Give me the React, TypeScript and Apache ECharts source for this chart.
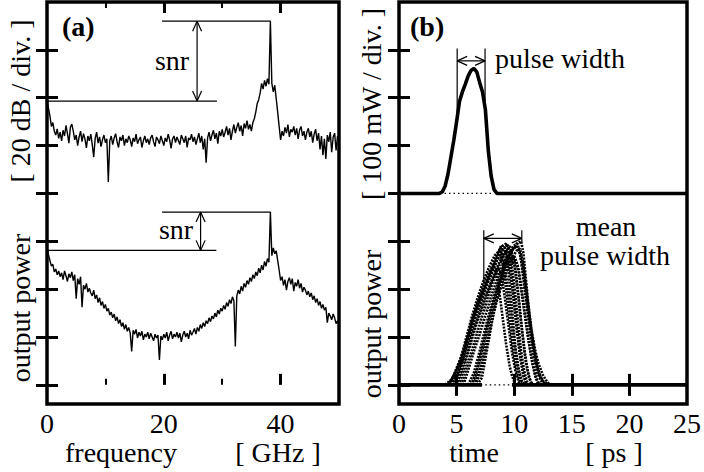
import React, { useEffect, useRef } from 'react';
import * as echarts from 'echarts';

// ---------- panel (a): spectra, level units (1 unit = 1 division) ----------
const FREQ_STEP = 0.25; // GHz between samples
const specUpper = [
  5.95, 5.78, 5.62, 5.40, 5.48, 5.30, 5.22, 5.35, 5.15, 5.28,
  5.10, 5.32, 5.20, 5.42, 5.25, 5.05, 5.38, 5.45, 5.30, 5.12,
  5.22, 5.00, 5.18, 5.30, 5.08, 5.25, 5.14, 4.95, 5.20, 5.10,
  5.24, 5.02, 4.76, 5.15, 5.28, 5.05, 5.18, 4.98, 5.12, 5.22,
  5.06, 5.14, 4.24, 5.10, 5.20, 5.02, 5.16, 5.25, 5.08, 4.96,
  5.18, 5.10, 5.22, 5.00, 5.14, 5.06, 5.20, 5.12, 4.98, 5.16,
  5.08, 5.24, 5.04, 5.12, 5.18, 4.96, 5.10, 5.20, 5.06, 5.14,
  5.02, 5.16, 5.22, 5.08, 4.98, 5.18, 5.12, 5.04, 5.20, 5.10,
  5.00, 5.16, 5.08, 5.24, 5.12, 4.94, 5.14, 5.20, 5.06, 5.18,
  5.10, 5.02, 5.22, 5.14, 5.06, 5.20, 4.96, 5.16, 5.12, 5.24,
  5.08, 5.18, 5.02, 5.14, 5.26, 5.06, 5.20, 4.92, 5.14, 4.64,
  5.16, 5.28, 5.10, 5.22, 5.32, 5.14, 5.26, 5.04, 5.30, 5.20,
  5.34, 5.18, 5.28, 5.40, 5.22, 5.36, 5.12, 5.30, 5.44, 5.26,
  5.38, 5.48, 5.30, 5.42, 5.20, 5.46, 5.36, 5.52, 5.34, 5.44,
  5.30, 5.48, 5.56, 5.70, 5.88, 5.96, 6.10, 6.30, 6.18, 6.36,
  6.24, 6.40, 6.28, 7.60, 6.30, 6.12, 6.26, 5.98, 5.70, 5.40,
  5.12, 5.30, 5.20, 5.38, 5.26, 5.44, 5.18, 5.34, 5.28, 5.40,
  5.22, 5.36, 5.14, 5.32, 5.40, 5.20, 5.30, 5.12, 5.28, 5.36,
  5.18, 5.30, 5.06, 5.24, 5.34, 5.10, 5.26, 4.92, 5.20, 4.80,
  5.14, 4.72, 5.22, 5.08, 5.28, 4.86, 5.18, 5.26, 4.90, 5.20,
  5.12,
];
const specLower = [
  2.88, 2.72, 2.60, 2.48, 2.52, 2.36, 2.42, 2.30, 2.38, 2.26,
  2.34, 2.20, 2.38, 2.28, 2.16, 2.32, 2.24, 2.36, 2.18, 2.30,
  1.80, 2.22, 2.10, 2.26, 1.62, 2.08, 2.00, 2.12, 1.94, 2.02,
  1.92, 1.86, 1.98, 1.80, 1.88, 1.72, 1.82, 1.66, 1.74, 1.60,
  1.68, 1.54, 1.60, 1.46, 1.52, 1.40, 1.48, 1.34, 1.42, 1.28,
  1.36, 1.22, 1.30, 1.16, 1.26, 1.12, 1.20, 1.08, 0.70, 1.14,
  1.06, 1.16, 0.98, 1.10, 1.02, 1.12, 0.94, 1.06, 1.00, 1.10,
  0.96, 1.08, 1.00, 0.92, 1.06, 0.98, 1.04, 0.52, 1.02, 0.94,
  1.06, 0.98, 1.10, 0.92, 1.04, 1.12, 0.96, 1.06, 1.00, 1.10,
  0.98, 1.08, 0.90, 1.04, 1.12, 1.00, 1.08, 0.96, 1.14, 1.04,
  1.10, 1.18, 1.06, 1.20, 1.12, 1.26, 1.18, 1.30, 1.22, 1.34,
  1.28, 1.40, 1.32, 1.44, 1.38, 1.50, 1.42, 1.56, 1.48, 1.60,
  1.54, 1.66, 1.58, 1.72, 1.64, 1.78, 1.70, 1.84, 1.76, 0.80,
  1.86, 1.98, 1.90, 2.06, 1.96, 2.12, 2.04, 2.18, 2.10, 2.24,
  2.16, 2.30, 2.22, 2.36, 2.28, 2.44, 2.34, 2.50, 2.40, 2.58,
  2.48, 2.64, 2.56, 3.61, 2.70, 2.86, 2.74, 2.80, 2.60, 2.40,
  2.18, 2.26, 2.08, 2.20, 1.98, 2.16, 2.24, 2.10, 2.22, 1.96,
  2.14, 2.06, 2.20, 2.02, 2.12, 1.94, 2.04, 1.98, 1.88, 1.96,
  1.84, 1.92, 1.78, 1.86, 1.72, 1.80, 1.66, 1.74, 1.60, 1.68,
  1.56, 1.62, 1.30, 1.50, 1.44, 1.36, 1.48, 1.40, 1.28, 1.34,
  1.26,
];
// annotation segments: [x1, y1, x2, y2, doubleArrow]
const annotA = [
  [19.7, 7.6, 38.3, 7.6, 0],
  [0, 5.93, 29.1, 5.93, 0],
  [25.7, 7.6, 25.7, 5.93, 1],
  [19.7, 3.61, 38.3, 3.61, 0],
  [0, 2.81, 29.0, 2.81, 0],
  [26.3, 3.61, 26.3, 2.81, 1],
];
const freqLabels = [0, 20, 40];
const freqMajorTicks = [20, 40];
const freqMinorTicks = [10, 30];

// ---------- panel (b): pulses ----------
const pulseTimes = [0, 3.5, 3.75, 4, 4.25, 4.5, 4.75, 5, 5.25, 5.5, 5.75, 6, 6.25, 6.5, 6.75, 7, 7.25, 7.5, 7.75, 8, 8.25, 8.5, 25];
const pulseLevels = [4, 4, 4.03, 4.15, 4.40, 4.75, 5.10, 5.50, 5.92, 6.12, 6.28, 6.45, 6.57, 6.61, 6.54, 6.32, 6.12, 5.75, 4.90, 4.36, 4.08, 4, 4];
const upperDottedBase = [[3.95, 4], [8.0, 4]];
const lowerDottedBase = [[7.1, 0], [9.9, 0]];
const lowerBaseLeft = [[0, 0], [7.2, 0]];
const lowerBaseRight = [[9.8, 0], [25, 0]];
const traceL1 = [[4.2,0],[4.6,0.12],[5.0,0.35],[5.5,0.65],[6.0,1.05],[6.5,1.45],[7.0,1.8],[7.5,2.1],[8.0,2.4],[8.5,2.72],[8.9,2.92],[9.2,2.85],[9.5,2.4],[9.8,1.6],[10.1,0.8],[10.4,0.3],[10.7,0.05],[11,0]];
const traceL2 = [[4.8,0],[5.3,0.3],[5.8,0.8],[6.3,1.3],[6.8,1.7],[7.3,2.05],[7.8,2.35],[8.2,2.5],[8.5,2.3],[8.7,1.95],[9.0,1.4],[9.3,0.85],[9.6,0.4],[9.8,0.2],[10.1,0]];
const traceL3 = [[4.5,0],[5.0,0.2],[5.5,0.5],[6.0,0.9],[6.5,1.3],[7.0,1.65],[7.5,2.0],[8.0,2.3],[8.5,2.6],[9.0,2.8],[9.4,2.95],[9.7,2.7],[10.0,2.1],[10.3,1.4],[10.6,0.7],[10.9,0.25],[11.2,0]];
const traceL4 = [[5.0,0],[5.5,0.35],[6.0,0.75],[6.5,1.15],[7.0,1.5],[7.5,1.85],[8.0,2.15],[8.5,2.45],[9.0,2.7],[9.3,2.8],[9.6,2.5],[9.9,1.9],[10.2,1.2],[10.5,0.6],[10.8,0.2],[11.1,0]];
const traceL5 = [[5.4,0],[5.8,0.3],[6.3,0.7],[6.8,1.1],[7.3,1.5],[7.8,1.9],[8.3,2.25],[8.8,2.55],[9.2,2.75],[9.6,2.9],[10.0,2.6],[10.3,2.0],[10.6,1.3],[10.9,0.7],[11.2,0.25],[11.5,0]];
const traceL6 = [[4.0,0],[4.5,0.1],[5.0,0.3],[5.5,0.6],[5.9,0.95],[6.4,1.35],[6.9,1.7],[7.4,2.0],[7.9,2.3],[8.4,2.6],[8.8,2.85],[9.1,2.6],[9.4,2.1],[9.7,1.5],[10.0,0.9],[10.3,0.4],[10.6,0.1],[10.9,0]];
const traceL7 = [[4.6,0],[5.1,0.25],[5.6,0.6],[6.1,1.0],[6.6,1.4],[7.1,1.75],[7.6,2.1],[8.1,2.4],[8.6,2.65],[9.0,2.9],[9.3,2.95],[9.6,2.65],[9.9,2.0],[10.2,1.3],[10.5,0.65],[10.8,0.2],[11.1,0]];
const traceL8 = [[5.2,0],[5.7,0.4],[6.2,0.85],[6.7,1.25],[7.2,1.6],[7.7,1.95],[8.2,2.25],[8.6,2.45],[8.9,2.3],[9.2,1.8],[9.5,1.25],[9.8,0.7],[10.1,0.3],[10.4,0.05],[10.7,0]];
const traceL9 = [[5.6,0],[6.0,0.3],[6.5,0.7],[7.0,1.05],[7.5,1.45],[8.0,1.85],[8.5,2.2],[9.0,2.5],[9.4,2.7],[9.8,2.75],[10.1,2.4],[10.4,1.8],[10.7,1.1],[11.0,0.5],[11.3,0.15],[11.6,0]];
const traceL10 = [[4.3,0],[4.8,0.2],[5.3,0.5],[5.8,0.95],[6.3,1.4],[6.8,1.8],[7.3,2.15],[7.8,2.45],[8.3,2.7],[8.7,2.8],[9.0,2.55],[9.3,2.0],[9.6,1.35],[9.9,0.75],[10.2,0.3],[10.5,0.05],[10.8,0]];
const traceR1 = [[6.8,0],[7.2,0.15],[7.5,0.55],[7.8,0.95],[8.1,1.35],[8.4,1.7],[8.7,2.05],[9.0,2.35],[9.4,2.6],[9.8,2.8],[10.2,2.95],[10.6,3.0],[10.8,2.75],[11.0,2.25],[11.2,1.75],[11.5,1.15],[11.8,0.75],[12.1,0.45],[12.5,0.2],[12.9,0.05],[13.2,0]];
const traceR2 = [[6.2,0],[6.6,0.15],[7.0,0.5],[7.4,0.9],[7.8,1.3],[8.2,1.7],[8.6,2.05],[9.0,2.35],[9.4,2.6],[9.8,2.8],[10.2,2.9],[10.5,2.75],[10.8,2.3],[11.1,1.7],[11.4,1.1],[11.7,0.6],[12.0,0.25],[12.4,0.05],[12.8,0]];
const traceR3 = [[6.5,0],[7.0,0.3],[7.4,0.7],[7.8,1.1],[8.2,1.5],[8.6,1.85],[9.0,2.2],[9.4,2.45],[9.8,2.65],[10.2,2.8],[10.5,2.85],[10.8,2.5],[11.1,1.9],[11.4,1.3],[11.7,0.8],[12.0,0.4],[12.3,0.15],[12.7,0]];
const traceR4 = [[6.0,0],[6.5,0.25],[7.0,0.7],[7.5,1.2],[8.0,1.65],[8.5,2.05],[9.0,2.4],[9.5,2.7],[9.9,2.9],[10.3,2.95],[10.6,2.6],[10.9,2.0],[11.2,1.45],[11.5,0.95],[11.8,0.55],[12.1,0.25],[12.5,0.08],[13,0]];
const traceR5 = [[6.6,0],[7.0,0.2],[7.4,0.6],[7.8,1.0],[8.1,1.4],[8.5,1.8],[9.0,2.15],[9.4,2.4],[9.8,2.55],[10.1,2.6],[10.4,2.4],[10.7,1.9],[11.0,1.35],[11.3,0.85],[11.6,0.45],[11.9,0.15],[12.2,0]];
const traceR6 = [[6.3,0],[6.8,0.35],[7.2,0.75],[7.6,1.15],[8.0,1.55],[8.4,1.9],[8.8,2.2],[9.2,2.45],[9.6,2.6],[10.0,2.7],[10.3,2.5],[10.6,2.0],[10.9,1.5],[11.2,1.0],[11.5,0.55],[11.8,0.2],[12.1,0]];
const pulseTraces = [traceL1, traceL2, traceL3, traceL4, traceL5, traceL6, traceL7, traceL8, traceL9, traceL10, traceR1, traceR2, traceR3, traceR4, traceR5, traceR6];
const annotB = [
  [5.05, 7.03, 5.05, 5.58, 0],
  [7.47, 7.03, 7.47, 5.85, 0],
  [5.05, 6.77, 7.47, 6.77, 1],
  [7.36, 3.23, 7.36, 2.12, 0],
  [10.66, 3.23, 10.66, 2.98, 0],
  [7.36, 3.06, 10.66, 3.06, 1],
];
const timeLabels = [0, 5, 10, 15, 20, 25];
const timeTicks = [5, 10, 15, 20];
const levelTicks = [0, 1, 2, 3, 4, 5, 6, 7];

const FONT = "'Liberation Serif', 'Times New Roman', Times, serif";

function xAx(gridIndex: number, position: string, max: number, ticks: number[], len: number, width: number, labels?: number[]) {
  return {
    type: 'value', gridIndex, position, min: 0, max,
    axisLine: { show: false }, splitLine: { show: false },
    axisTick: { show: true, inside: true, length: len, lineStyle: { color: '#000', width }, customValues: ticks },
    axisLabel: labels
      ? { show: true, customValues: labels, color: '#000', fontSize: 28, fontFamily: FONT, margin: 5 }
      : { show: false },
  };
}
function yAx(gridIndex: number, position: string) {
  return {
    type: 'value', gridIndex, position, min: -0.4, max: 8,
    axisLine: { show: false }, splitLine: { show: false },
    axisTick: { show: true, inside: true, length: 11, lineStyle: { color: '#000', width: 3 }, customValues: levelTicks },
    axisLabel: { show: false },
  };
}

function arrowRender(params: any, api: any) {
  const p1 = api.coord([api.value(0), api.value(1)]);
  const p2 = api.coord([api.value(2), api.value(3)]);
  const st = { stroke: '#000', lineWidth: 1.2 };
  const children: any[] = [{ type: 'line', shape: { x1: p1[0], y1: p1[1], x2: p2[0], y2: p2[1] }, style: st }];
  if (api.value(4)) {
    const dx = p2[0] - p1[0], dy = p2[1] - p1[1];
    const len = Math.hypot(dx, dy) || 1;
    const ux = dx / len, uy = dy / len, nx = -uy, ny = ux;
    const L = 10, W = 4.5;
    for (const [px, py, s] of [[p2[0], p2[1], -1], [p1[0], p1[1], 1]]) {
      children.push({ type: 'line', shape: { x1: px, y1: py, x2: px + s * ux * L + nx * W, y2: py + s * uy * L + ny * W }, style: st });
      children.push({ type: 'line', shape: { x1: px, y1: py, x2: px + s * ux * L - nx * W, y2: py + s * uy * L - ny * W }, style: st });
    }
  }
  return { type: 'group', children };
}

function txt(text: string, x: number, y: number, align: string, opts: any = {}) {
  return {
    type: 'text', x, y, rotation: opts.rotation || 0, silent: true,
    style: {
      text, fill: '#000', fontSize: opts.size || 28, fontFamily: FONT, fontWeight: opts.bold ? 'bold' : 'normal',
      lineHeight: opts.lh || 28,
      align, verticalAlign: 'middle', textAlign: align, textVerticalAlign: 'middle',
    },
  };
}

export default function App() {
  const ref = useRef<HTMLDivElement>(null);
  useEffect(() => {
    const chart = echarts.init(ref.current!, null, { renderer: 'svg' });
    const line = (data: any[], xi: number, yi: number, width: number, type: any = 'solid', z = 2) => ({
      type: 'line', xAxisIndex: xi, yAxisIndex: yi, data, showSymbol: false, symbol: 'none', silent: true, z,
      lineStyle: { color: '#000', width, type }, clip: true,
    });
    const option: any = {
      animation: false,
      backgroundColor: '#fff',
      textStyle: { fontFamily: FONT },
      grid: [
        { left: 47, right: 365, top: 2, bottom: 68, show: true, borderColor: '#000', borderWidth: 3.5, backgroundColor: 'transparent' },
        { left: 399, right: 13, top: 2, bottom: 68, show: true, borderColor: '#000', borderWidth: 3.5, backgroundColor: 'transparent' },
      ],
      xAxis: [
        xAx(0, 'bottom', 50, freqMajorTicks, 11, 3, freqLabels),
        xAx(0, 'bottom', 50, freqMinorTicks, 6, 2),
        xAx(0, 'top', 50, freqMajorTicks, 11, 3),
        xAx(0, 'top', 50, freqMinorTicks, 6, 2),
        xAx(1, 'bottom', 25, timeTicks, 11, 3, timeLabels),
        xAx(1, 'top', 25, timeTicks, 11, 3),
      ],
      yAxis: [yAx(0, 'left'), yAx(0, 'right'), yAx(1, 'left'), yAx(1, 'right')],
      series: [
        line(specUpper.map((v, i) => [i * FREQ_STEP, v]), 0, 0, 1.4),
        line(specLower.map((v, i) => [i * FREQ_STEP, v]), 0, 0, 1.4),
        { type: 'custom', xAxisIndex: 0, yAxisIndex: 0, data: annotA, renderItem: arrowRender, silent: true, z: 3 },
        line(upperDottedBase, 4, 2, 1.2, [1.5, 3], 1),
        line(pulseTimes.map((t, i) => [t, pulseLevels[i]]), 4, 2, 3.6),
        line(lowerDottedBase, 4, 2, 1.2, [1.5, 3], 1),
        line(lowerBaseLeft, 4, 2, 3.6),
        line(lowerBaseRight, 4, 2, 3.6),
        ...pulseTraces.map((tr) => line(tr, 4, 2, 2.6, [2, 1.2])),
        { type: 'custom', xAxisIndex: 4, yAxisIndex: 2, data: annotB, renderItem: arrowRender, silent: true, z: 3 },
      ],
      graphic: [
        txt('(a)', 62, 26, 'left', { bold: true }),
        txt('(b)', 410, 26, 'left', { bold: true }),
        txt('snr', 172, 60, 'center'),
        txt('snr', 176, 229, 'center'),
        txt('pulse width', 495, 58, 'left'),
        txt('mean', 606, 226, 'center', { lh: 18 }),
        txt('pulse width', 605, 255, 'center', { lh: 22 }),
        txt('frequency', 121, 452, 'center', { lh: 20 }),
        txt('[ GHz ]', 278, 452, 'center', { lh: 20 }),
        txt('time', 474, 452, 'center', { lh: 20 }),
        txt('[ ps ]', 614, 452, 'center', { lh: 20 }),
        txt('[ 20 dB / div. ]', 20, 101, 'center', { rotation: Math.PI / 2 }),
        txt('output power', 20, 308, 'center', { rotation: Math.PI / 2 }),
        txt('[ 100 mW / div. ]', 371, 104, 'center', { rotation: Math.PI / 2 }),
        txt('output power', 371, 324, 'center', { rotation: Math.PI / 2 }),
      ],
    };
    chart.setOption(option);
    return () => chart.dispose();
  }, []);
  return <div ref={ref} style={{ position: 'fixed', left: 0, top: 0, width: 704, height: 472, background: '#fff' }} />;
}
